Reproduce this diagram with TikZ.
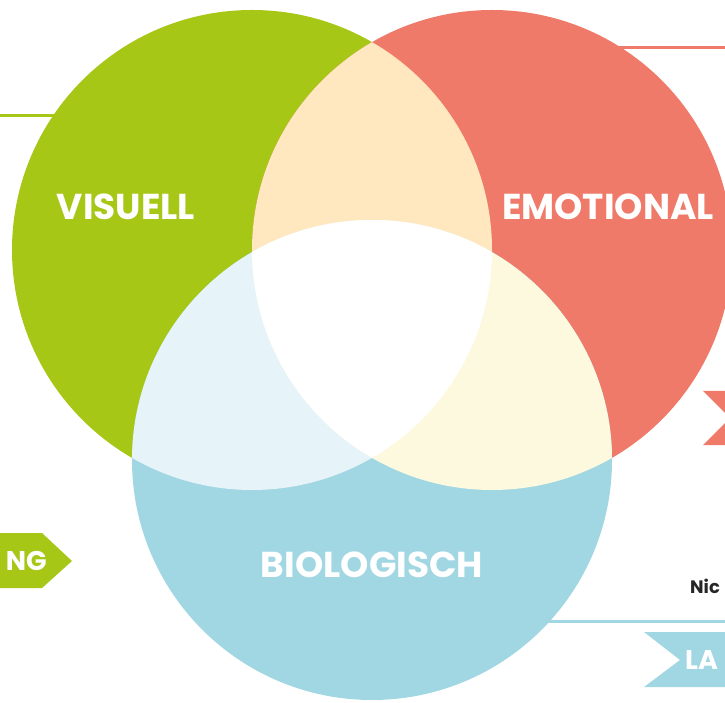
\documentclass[tikz,border=0pt]{standalone}
\usepackage{fontspec}
\setmainfont{Poppins}
\begin{document}
\begin{tikzpicture}[x=1pt,y=1pt,
  lbl/.style={text=white,font=\bfseries\fontsize{36}{36}\selectfont,inner sep=0pt},
  tag/.style={text=white,font=\bfseries\fontsize{27}{27}\selectfont,inner sep=0pt}]
\definecolor{cgreen}{HTML}{A6C716}
\definecolor{cred}{HTML}{F07A6A}
\definecolor{cblue}{HTML}{A1D6E3}
\definecolor{cgr}{HTML}{FFE8BF}
\definecolor{cgb}{HTML}{E6F3F8}
\definecolor{crb}{HTML}{FDF9DE}
\useasboundingbox (0,0) rectangle (725,702);
\clip (0,0) rectangle (725,702);
% connector lines
\coordinate (gl0) at (0,586);
\coordinate (gl1) at (70,586);
\coordinate (rl0) at (600,654.5);
\coordinate (rl1) at (725,654.5);
\coordinate (bl0) at (540,81);
\coordinate (bl1) at (725,81);
\draw[cgreen,line width=3pt] (gl0) -- (gl1);
\draw[cred,line width=3pt] (rl0) -- (rl1);
\draw[cblue,line width=3pt] (bl0) -- (bl1);
% circles
\coordinate (G) at (252,452);
\coordinate (R) at (492,452);
\coordinate (B) at (372,242);
\fill[cgreen] (G) circle (240);
\fill[cred] (R) circle (240);
\fill[cblue] (B) circle (240);
\begin{scope}
\clip (G) circle (240);
\fill[cgr] (R) circle (240);
\fill[cgb] (B) circle (240);
\end{scope}
\begin{scope}
\clip (R) circle (240);
\fill[crb] (B) circle (240);
\begin{scope}
\clip (G) circle (240);
\fill[white] (B) circle (240);
\end{scope}
\end{scope}
% labels
\node[lbl] (vis) at (126,495) {VISUELL};
\node[lbl] (emo) at (608,495) {EMOTIONAL};
\node[lbl] (bio) at (372,137) {BIOLOGISCH};
% tags
\fill[cgreen] (-2,169) -- (42,169) -- (72,141) -- (42,114) -- (-2,114) -- cycle;
\node[tag,anchor=east] (ng) at (47,141) {NG};
\fill[cred] (703,311) -- (732,311) -- (732,257) -- (703,257) -- (730,284) -- cycle;
\fill[cblue] (644,70) -- (732,70) -- (732,15) -- (644,15) -- (680,42) -- cycle;
\node[tag,anchor=west] (la) at (685,42) {LA};
\node[text=black!85,font=\bfseries\fontsize{18}{18}\selectfont,inner sep=0pt,anchor=west] (nic) at (690,116) {Nic};
\end{tikzpicture}
\end{document}
